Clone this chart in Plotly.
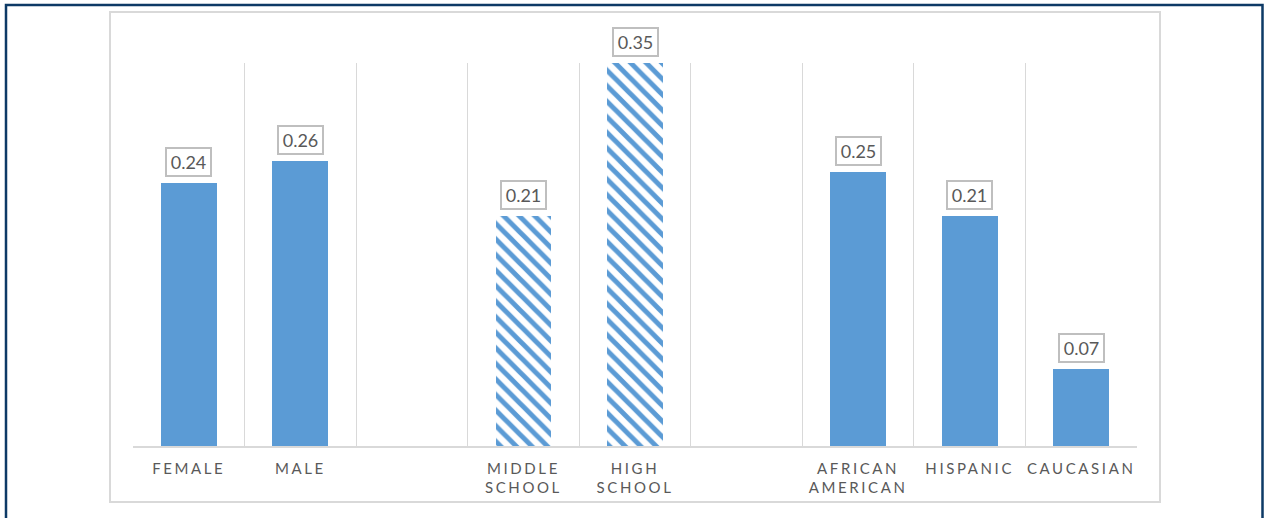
import plotly.graph_objects as go

# Slot layout: three groups separated by empty slots
slot_labels = ["FEMALE", "MALE", "", "MIDDLE<br>SCHOOL", "HIGH<br>SCHOOL", "",
               "AFRICAN<br>AMERICAN", "HISPANIC", "CAUCASIAN"]

gender_slots = [0, 1]
gender_values = [0.24, 0.26]

school_slots = [3, 4]
school_values = [0.21, 0.35]

race_slots = [6, 7, 8]
race_values = [0.25, 0.21, 0.07]

BLUE = "#5B9BD5"
TEXT = "#595959"
GRID = "#d9d9d9"
FONT = "Lato"

W, H = 1264, 518
ML, MR, MT, MB = 133, 127, 63, 72

fig = go.Figure()

solid = dict(color=BLUE, line=dict(width=0))
hatched = dict(color="white", line=dict(width=0),
               pattern=dict(shape="\\", fgcolor=BLUE, bgcolor="white",
                            fgopacity=1, size=11, solidity=0.45,
                            fillmode="overlay"))

fig.add_bar(x=gender_slots, y=gender_values, width=0.5, marker=solid,
            hoverinfo="skip")
fig.add_bar(x=school_slots, y=school_values, width=0.5, marker=hatched,
            hoverinfo="skip")
fig.add_bar(x=race_slots, y=race_values, width=0.5, marker=solid,
            hoverinfo="skip")

# Boxed value labels above each bar
for xs, vs in ((gender_slots, gender_values), (school_slots, school_values),
               (race_slots, race_values)):
    for x, v in zip(xs, vs):
        fig.add_annotation(x=x, y=v, text=f"{v:.2f}", showarrow=False,
                           yanchor="bottom", yshift=6,
                           font=dict(family=FONT, size=18, color=TEXT),
                           bgcolor="white", bordercolor="#bfbfbf",
                           borderwidth=2, borderpad=2, width=39, height=22)

spaced = [f'<span style="letter-spacing:2.6px">{t}</span>' if t else ""
          for t in slot_labels]

pw = W - ML - MR
ph = H - MT - MB


def px_x(p):
    return (p - ML) / pw


def px_y(p):
    return (H - MB - p) / ph


# Light gray frame around the chart
fig.add_shape(type="rect", xref="paper", yref="paper",
              x0=px_x(110), x1=px_x(1160), y0=px_y(502), y1=px_y(12),
              line=dict(color=GRID, width=2), fillcolor="rgba(0,0,0,0)",
              layer="below")
# Dark navy outer border (open at the bottom)
fig.add_shape(type="path", xref="paper", yref="paper",
              path=(f"M {px_x(6)} {px_y(530)} L {px_x(6)} {px_y(5)} "
                    f"L {px_x(1262.5)} {px_y(5)} L {px_x(1262.5)} {px_y(530)}"),
              line=dict(color="#0d3a66", width=2.5))

fig.update_layout(
    width=W, height=H,
    margin=dict(l=ML, r=MR, t=MT, b=MB, pad=0),
    paper_bgcolor="white", plot_bgcolor="white",
    showlegend=False, bargap=0,
    xaxis=dict(range=[-0.5, 8.5], tickmode="array",
               tickvals=list(range(len(slot_labels))), ticktext=spaced,
               showgrid=False, zeroline=False, ticks="",
               showline=True, linecolor=GRID, linewidth=1.5,
               tickfont=dict(family=FONT, size=15, color=TEXT),
               ticklabelstandoff=8,
               minor=dict(tickmode="array",
                          tickvals=[i - 0.5 for i in range(len(slot_labels) + 1)],
                          showgrid=True, gridcolor=GRID, gridwidth=1, ticks="")),
    yaxis=dict(range=[0, 0.35], visible=False, showgrid=False, fixedrange=True),
)

fig.write_html("out.html")
